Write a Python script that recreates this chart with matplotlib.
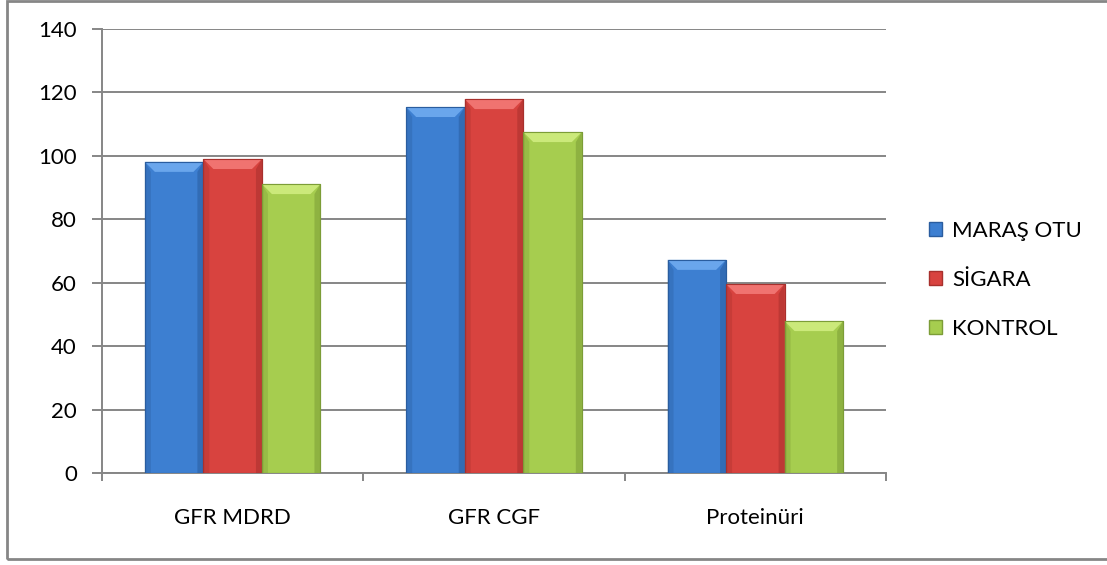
import matplotlib.pyplot as plt
import matplotlib.patches as mpatches
from matplotlib.patches import Polygon, Rectangle
import numpy as np

plt.rcParams['font.family'] = ['Lato', 'DejaVu Sans']

categories = ['GFR MDRD', 'GFR CGF', 'Proteinüri']
series_names = ['MARAŞ OTU', 'SİGARA', 'KONTROL']
maras_otu = [98.1, 115.4, 67.2]
sigara = [99.0, 117.9, 59.6]
kontrol = [91.1, 107.5, 47.9]
y_ticks = [0, 20, 40, 60, 80, 100, 120, 140]

values = [maras_otu, sigara, kontrol]
face = ['#3d7fd1', '#d8433f', '#a6cd4f']
light = ['#6aa6ec', '#f07370', '#cbe97a']
dark = ['#2a5d9f', '#a8302d', '#7c9d37']

fig = plt.figure(figsize=(11.07, 5.65), dpi=100)
ax = fig.add_axes([102 / 1107, 1 - 473 / 565, 784 / 1107, 444 / 565])

x = np.arange(len(categories))
width = 0.224
offsets = [-width, 0, width]

ax.set_xlim(-0.5, 2.5)
ax.set_ylim(0, 140)

# bevel sizes in data units (about 10 px)
bx = 10 / 261
by = 10 / (444 / 140)

for i, name in enumerate(series_names):
    xs = x + offsets[i]
    ax.bar(xs, values[i], width=width, color=face[i], edgecolor=dark[i],
           linewidth=0.8, zorder=3, label=name)
    for xc, v in zip(xs, values[i]):
        l, r = xc - width / 2, xc + width / 2
        # top bevel
        ax.add_patch(Polygon([(l, v), (r, v), (r - bx, v - by), (l + bx, v - by)],
                             closed=True, facecolor=light[i], edgecolor='none', zorder=4))
        # side shading
        ax.add_patch(Polygon([(l, v), (l + bx * 0.6, v - by), (l + bx * 0.6, 0), (l, 0)],
                             closed=True, facecolor=dark[i], alpha=0.35, edgecolor='none', zorder=4))
        ax.add_patch(Polygon([(r, v), (r - bx * 0.6, v - by), (r - bx * 0.6, 0), (r, 0)],
                             closed=True, facecolor=dark[i], alpha=0.55, edgecolor='none', zorder=4))
        ax.add_patch(Rectangle((l, 0), width, v, fill=False, edgecolor=dark[i],
                               linewidth=0.8, zorder=5))

grid_col = '#868686'
ax.set_yticks(y_ticks)
ax.yaxis.grid(True, color=grid_col, linewidth=1.4, zorder=0)
ax.set_axisbelow(True)

ax.set_xticks(x)
ax.set_xticklabels(categories)
ax.set_xticks([-0.5, 0.5, 1.5, 2.5], minor=True)
ax.tick_params(axis='x', which='major', length=0, pad=25, labelsize=16)
ax.tick_params(axis='x', which='minor', length=6, width=1.4, color=grid_col)
ax.tick_params(axis='y', length=7, width=1.4, color=grid_col, pad=11, labelsize=16)

for s in ['top', 'right']:
    ax.spines[s].set_visible(False)
for s in ['left', 'bottom']:
    ax.spines[s].set_color(grid_col)
    ax.spines[s].set_linewidth(1.4)

handles = [mpatches.Patch(facecolor=face[i], edgecolor=dark[i], label=series_names[i])
           for i in range(3)]
fig.legend(handles=handles, loc='center left', bbox_to_anchor=(909 / 1107, 1 - 280 / 565),
           frameon=False, fontsize=16, handlelength=0.6, handleheight=0.6,
           handletextpad=0.45, labelspacing=1.3)

# outer chart border
fig.patches.append(Rectangle((7 / 1107, 1 - 559 / 565), 1.2, 558 / 565,
                             transform=fig.transFigure, fill=False,
                             edgecolor=grid_col, linewidth=2))

fig.savefig('out.png', dpi=100)
